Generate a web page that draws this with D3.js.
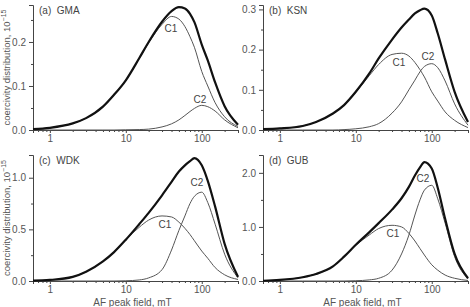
<!DOCTYPE html>
<html>
<head>
<meta charset="utf-8">
<script src="https://cdn.jsdelivr.net/npm/d3@7"></script>
<style>
  body { margin: 0; background: #fff; }
  svg { display: block; font-family: "Liberation Sans", Arial, sans-serif; }
  .axis path, .axis line { stroke: #444; }
  .axis text { fill: #555; font-size: 10px; }
</style>
</head>
<body>
<div id="chart"></div>
<script>
// AF peak field, mT (shared sampling for every curve)
const fields = [0.6, 1, 2, 3, 5, 7, 10, 15, 20, 30, 40, 50, 60, 70, 80, 100, 120, 150, 200, 300];

// (a) GMA
const gmaTotal = [0.002, 0.005, 0.015, 0.027, 0.053, 0.08, 0.113, 0.163, 0.2, 0.246, 0.27, 0.279, 0.276, 0.264, 0.245, 0.194, 0.158, 0.108, 0.054, 0.012];
const gmaC1 = [0.002, 0.005, 0.015, 0.027, 0.053, 0.08, 0.113, 0.162, 0.198, 0.24, 0.258, 0.252, 0.235, 0.212, 0.188, 0.133, 0.1, 0.062, 0.03, 0.008];
const gmaC2 = [0, 0, 0, 0, 0, 0, 0.0005, 0.001, 0.002, 0.007, 0.014, 0.023, 0.033, 0.042, 0.049, 0.056, 0.053, 0.043, 0.023, 0.005];

// (b) KSN
const ksnTotal = [0.002, 0.004, 0.01, 0.02, 0.041, 0.062, 0.095, 0.14, 0.178, 0.225, 0.255, 0.275, 0.29, 0.298, 0.302, 0.285, 0.24, 0.175, 0.095, 0.02];
const ksnC1 = [0.002, 0.004, 0.01, 0.02, 0.041, 0.062, 0.094, 0.135, 0.163, 0.188, 0.191, 0.184, 0.168, 0.15, 0.132, 0.095, 0.072, 0.045, 0.024, 0.006];
const ksnC2 = [0, 0, 0, 0, 0, 0.001, 0.003, 0.008, 0.016, 0.042, 0.07, 0.1, 0.124, 0.145, 0.158, 0.165, 0.155, 0.122, 0.065, 0.012];

// (c) WDK
const wdkTotal = [0.003, 0.01, 0.04, 0.09, 0.19, 0.28, 0.4, 0.55, 0.66, 0.83, 0.96, 1.06, 1.12, 1.16, 1.19, 1.12, 0.97, 0.72, 0.36, 0.04];
const wdkC1 = [0.003, 0.01, 0.04, 0.09, 0.19, 0.28, 0.4, 0.52, 0.59, 0.63, 0.62, 0.57, 0.51, 0.45, 0.39, 0.29, 0.22, 0.13, 0.06, 0.015];
const wdkC2 = [0, 0, 0, 0, 0, 0, 0.002, 0.01, 0.03, 0.11, 0.3, 0.49, 0.63, 0.75, 0.82, 0.86, 0.76, 0.55, 0.26, 0.03];

// (d) GUB
const gubTotal = [0.005, 0.02, 0.07, 0.13, 0.27, 0.45, 0.67, 0.9, 1.07, 1.32, 1.53, 1.74, 1.95, 2.1, 2.2, 2.08, 1.72, 1.15, 0.5, 0.05];
const gubC1 = [0.005, 0.02, 0.07, 0.13, 0.27, 0.45, 0.66, 0.85, 0.97, 1.03, 1.0, 0.88, 0.74, 0.6, 0.48, 0.3, 0.2, 0.11, 0.05, 0.01];
const gubC2 = [0, 0, 0, 0, 0, 0, 0.005, 0.02, 0.05, 0.2, 0.5, 0.85, 1.22, 1.5, 1.68, 1.77, 1.52, 1.07, 0.45, 0.04];

// tick labels
const xMajorTicks = [1, 10, 100];
const xMinorTicks = [0.6, 0.7, 0.8, 0.9, 2, 3, 4, 5, 6, 7, 8, 9, 20, 30, 40, 50, 60, 70, 80, 90, 200, 300];

const width = 470;
const height = 307;

const panels = [
	{ label: "(a)  GMA", total: gmaTotal, c1: gmaC1, c2: gmaC2, yMax: 0.284, yTicks: [0, 0.1, 0.2], yMinor: [0.05, 0.15, 0.25],
	  box: [33, 238, 5, 130], c1Pos: [171, 28], c2Pos: [200, 99], yTitle: true, xTitle: false },
	{ label: "(b)  KSN", total: ksnTotal, c1: ksnC1, c2: ksnC2, yMax: 0.311, yTicks: [0, 0.1, 0.2, 0.3], yMinor: [0.05, 0.15, 0.25],
	  box: [263, 468, 5, 130], c1Pos: [399, 62], c2Pos: [428, 56], yTitle: false, xTitle: false },
	{ label: "(c)  WDK", total: wdkTotal, c1: wdkC1, c2: wdkC2, yMax: 1.22, yTicks: [0, 0.5, 1.0], yMinor: [0.25, 0.75],
	  box: [33, 238, 155, 281], c1Pos: [165, 224], c2Pos: [197, 182], yTitle: true, xTitle: true },
	{ label: "(d)  GUB", total: gubTotal, c1: gubC1, c2: gubC2, yMax: 2.33, yTicks: [0, 1.0, 2.0], yMinor: [0.5, 1.5],
	  box: [263, 468, 155, 281], c1Pos: [393, 233], c2Pos: [423, 178], yTitle: false, xTitle: true },
];

const svg = d3.select("#chart")
	.append("svg")
	.attr("width", width)
	.attr("height", height);

panels.forEach(p => {
	const [left, right, top, bottom] = p.box;
	const x = d3.scaleLog().domain([0.6, 300]).range([left, right]);
	const y = d3.scaleLinear().domain([0, p.yMax]).range([bottom, top]);
	const g = svg.append("g");

	// x axis: major + minor ticks
	g.append("g")
		.attr("class", "axis")
		.attr("transform", `translate(0,${bottom})`)
		.call(d3.axisBottom(x).tickValues(xMajorTicks).tickSize(3).tickPadding(2).tickFormat(d3.format("d")));
	g.append("g")
		.attr("class", "axis")
		.attr("transform", `translate(0,${bottom})`)
		.call(d3.axisBottom(x).tickValues(xMinorTicks).tickSize(2).tickFormat(""))
		.call(a => a.select(".domain").remove());

	// y axis
	g.append("g")
		.attr("class", "axis")
		.attr("transform", `translate(${left},0)`)
		.call(d3.axisLeft(y).tickValues(p.yTicks).tickSize(4).tickPadding(3).tickFormat(d3.format(".1f")));
	g.append("g")
		.attr("class", "axis")
		.attr("transform", `translate(${left},0)`)
		.call(d3.axisLeft(y).tickValues(p.yMinor).tickSize(2).tickFormat(""))
		.call(a => a.select(".domain").remove());

	const line = vals => d3.line()
		.x((d, i) => x(fields[i]))
		.y(d => y(d))
		.curve(d3.curveMonotoneX)(vals);

	g.append("path").attr("d", line(p.c1)).attr("fill", "none").attr("stroke", "#555").attr("stroke-width", 1);
	g.append("path").attr("d", line(p.c2)).attr("fill", "none").attr("stroke", "#555").attr("stroke-width", 1);
	g.append("path").attr("d", line(p.total)).attr("fill", "none").attr("stroke", "#111").attr("stroke-width", 2.2);

	// labels
	g.append("text")
		.attr("x", left + 6)
		.attr("y", top + 9)
		.style("font-size", "10px")
		.style("fill", "#444")
		.attr("xml:space", "preserve")
		.text(p.label);
	g.append("text").attr("x", p.c1Pos[0]).attr("y", p.c1Pos[1] + 4).attr("text-anchor", "middle")
		.style("font-size", "10px").style("fill", "#444").text("C1");
	g.append("text").attr("x", p.c2Pos[0]).attr("y", p.c2Pos[1] + 4).attr("text-anchor", "middle")
		.style("font-size", "10px").style("fill", "#444").text("C2");

	if (p.yTitle) {
		const t = g.append("text")
			.attr("transform", `translate(10,${(top + bottom) / 2}) rotate(-90)`)
			.attr("text-anchor", "middle")
			.style("font-size", "9.5px")
			.style("fill", "#555");
		t.append("tspan").text("coercivity distribution, 10");
		t.append("tspan").attr("dy", -4).style("font-size", "7px").text("\u221215");
	}
	if (p.xTitle) {
		g.append("text")
			.attr("x", (left + right) / 2 - 3)
			.attr("y", 305.5)
			.attr("text-anchor", "middle")
			.style("font-size", "10px")
			.style("fill", "#555")
			.text("AF peak field, mT");
	}
});
</script>
</body>
</html>
